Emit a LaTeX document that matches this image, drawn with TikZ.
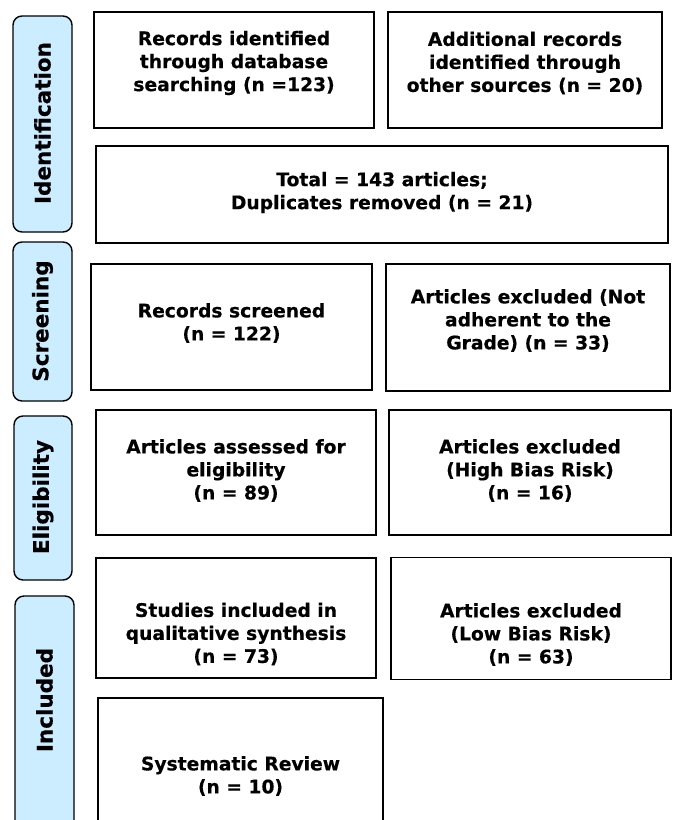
\documentclass[tikz,border=0pt]{standalone}
\usepackage{fontspec}
\setmainfont{DejaVu Sans}[BoldFeatures={FakeBold=0.4}]
\definecolor{sideblue}{RGB}{204,236,255}
\begin{document}
\begin{tikzpicture}[x=1pt,y=-1pt,
  box/.style={draw=black, line width=1.4pt, fill=white, inner sep=0pt},
  boxtext/.style={align=center, inner sep=0pt, font=\bfseries\fontsize{18.7}{23}\selectfont},
  side/.style={draw=black, line width=1.4pt, fill=sideblue, rounded corners=9pt},
  sidetext/.style={rotate=90, inner sep=0pt, font=\bfseries\fontsize{21.5}{24}\selectfont}]
\useasboundingbox (0,0) rectangle (675,820);
\clip (0,0) rectangle (675,820);
% side phase labels
\draw[side] (13,16) rectangle (72,232);
\node[sidetext] (sid) at (42.5,123) {Identification};
\draw[side] (13,242) rectangle (72,401);
\node[sidetext] (sscr) at (42.5,321) {Screening};
\draw[side] (14,416) rectangle (72,580);
\node[sidetext] (selig) at (43,497) {Eligibility};
\draw[side] (15,596) rectangle (74,860);
\node[sidetext] (sinc) at (44.5,700) {Included};
% boxes
\node[box, minimum width=280pt, minimum height=116pt] (a) at (234,70) {};
\node[boxtext] (at) at ([yshift=7pt]a.center) {Records identified\\through database\\searching (n =123)};
\node[box, minimum width=274pt, minimum height=116pt] (b) at (525,70) {};
\node[boxtext] (bt) at ([yshift=7pt]b.center) {Additional records\\identified through\\other sources (n = 20)};
\node[box, minimum width=572pt, minimum height=97pt] (tot) at (382,194.5) {};
\node[boxtext] (tott) at ([yshift=2pt]tot.center) {Total = 143 articles;\\Duplicates removed (n = 21)};
\node[box, minimum width=281pt, minimum height=126pt] (scr) at (231.5,327) {};
\node[boxtext] (scrt) at ([yshift=4pt]scr.center) {Records screened\\(n = 122)};
\node[box, minimum width=284pt, minimum height=127pt] (exc1) at (528,327.5) {};
\node[boxtext] (exc1t) at ([yshift=7pt]exc1.center) {Articles excluded (Not\\adherent to the\\Grade) (n = 33)};
\node[box, minimum width=280pt, minimum height=125pt] (ass) at (236,472.5) {};
\node[boxtext] (asst) at ([yshift=2pt]ass.center) {Articles assessed for\\eligibility\\(n = 89)};
\node[box, minimum width=282pt, minimum height=125pt] (exc2) at (530,472.5) {};
\node[boxtext] (exc2t) at ([yshift=2pt]exc2.center) {Articles excluded\\(High Bias Risk)\\(n = 16)};
\node[box, minimum width=280pt, minimum height=120pt] (stu) at (236,618) {};
\node[boxtext] (stut) at ([yshift=-16pt]stu.center) {Studies included in\\qualitative synthesis\\(n = 73)};
\node[box, minimum width=280pt, minimum height=122pt] (exc3) at (531,618.5) {};
\node[boxtext] (exc3t) at ([yshift=-16pt]exc3.center) {Articles excluded\\(Low Bias Risk)\\(n = 63)};
\node[box, minimum width=285pt, minimum height=152pt] (sys) at (240.5,774) {};
\node[boxtext] (syst) at ([yshift=-2pt]sys.center) {Systematic Review\\(n = 10)};
\end{tikzpicture}
\end{document}
